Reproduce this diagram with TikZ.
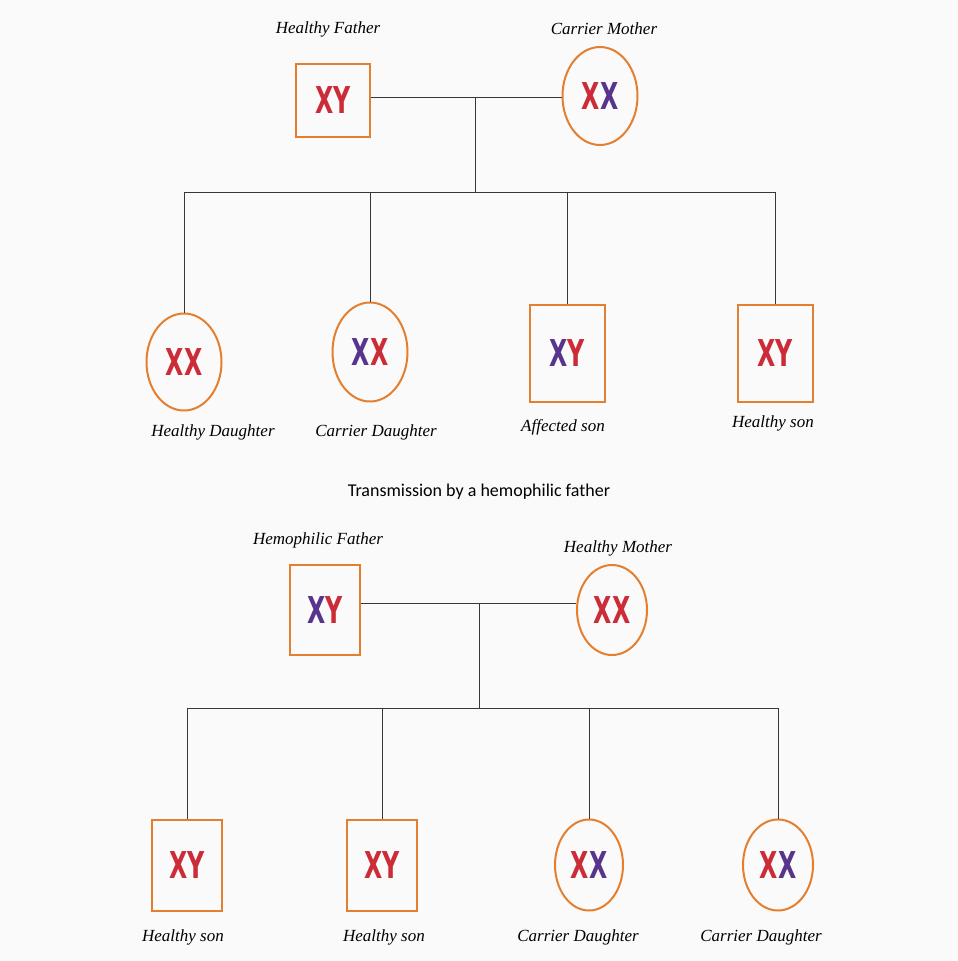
\documentclass[tikz,border=0pt]{standalone}
\usepackage{fontspec}
\usetikzlibrary{shapes.geometric}
\newfontfamily\handfont{Liberation Serif}
\newfontfamily\chromfont{DejaVu Sans}[UprightFont={* Bold}]
\newfontfamily\titlefont{Carlito}
\definecolor{pedorange}{RGB}{229,127,48}
\definecolor{xred}{RGB}{204,44,56}
\definecolor{xpurple}{RGB}{88,52,140}
\definecolor{linegray}{RGB}{55,55,55}
\definecolor{bgwhite}{RGB}{250,250,250}
\newcommand{\Xr}{\textcolor{xred}{X}}
\newcommand{\Xp}{\textcolor{xpurple}{X}}
\newcommand{\Yr}{\textcolor{xred}{Y}}
\newcommand{\chr}[1]{\scalebox{0.64}[1]{#1}}
\begin{document}
\begin{tikzpicture}[x=1pt,y=-1pt,
        male/.style={rectangle,draw=pedorange,line width=2pt,inner sep=0pt,font=\chromfont\fontsize{37}{37}\selectfont},
        female/.style={ellipse,draw=pedorange,line width=2pt,inner sep=0pt,font=\chromfont\fontsize{37}{37}\selectfont},
        lsty/.style={font=\handfont\itshape\fontsize{17}{20}\selectfont},
        link/.style={draw=linegray,line width=1pt},
        ]

    \fill[bgwhite] (0,0) rectangle (958,961);
    \useasboundingbox (0,0) rectangle (958,961);

    % carrier mother
    \node (hf) at (333,100) [male,minimum width=74pt,minimum height=73pt] {\chr{\Xr\Yr}};
    \node (cm) at (600,96) [female,minimum width=75pt,minimum height=98pt] {\chr{\Xr\Xp}};
    \node (hfl) at (328,29) [lsty] {Healthy Father};
    \node (cml) at (604,29) [lsty] {Carrier Mother};

    \node (hd) at (184,362) [female,minimum width=75pt,minimum height=97pt] {\chr{\Xr\Xr}};
    \node (cd) at (370,352) [female,minimum width=75pt,minimum height=99pt] {\chr{\Xp\Xr}};
    \node (as) at (567,353) [male,minimum width=75pt,minimum height=97pt] {\chr{\Xp\Yr}};
    \node (hs) at (775,353) [male,minimum width=75pt,minimum height=97pt] {\chr{\Xr\Yr}};
    \node (hdl) at (213,432) [lsty] {Healthy Daughter};
    \node (cdl) at (376,432) [lsty] {Carrier Daughter};
    \node (asl) at (563,427) [lsty] {Affected son};
    \node (hsl) at (773,423) [lsty] {Healthy son};

    \coordinate (m1) at (475,97);
    \coordinate (s1) at (475,192);
    \draw[link] (m1 -| hf.east) -- (m1 -| cm.west);
    \draw[link] (m1) -- (s1);
    \draw[link] (hd.north |- s1) -- (hs.north |- s1);
    \foreach \c in {hd,cd,as,hs}
        \draw[link] (\c.north) -- (\c.north |- s1);

    \node (title) at (479,492) [font=\titlefont\fontsize{18}{21}\selectfont] {Transmission by a hemophilic father};

    % hemophilic father
    \node (hp) at (325,610) [male,minimum width=70pt,minimum height=90pt] {\chr{\Xp\Yr}};
    \node (hm) at (612,610) [female,minimum width=70pt,minimum height=90pt] {\chr{\Xr\Xr}};
    \node (hpl) at (318,540) [lsty] {Hemophilic Father};
    \node (hml) at (618,548) [lsty] {Healthy Mother};

    \node (sa) at (187,865) [male,minimum width=70pt,minimum height=91pt] {\chr{\Xr\Yr}};
    \node (sb) at (382,865) [male,minimum width=70pt,minimum height=91pt] {\chr{\Xr\Yr}};
    \node (da) at (589,865) [female,minimum width=68pt,minimum height=91pt] {\chr{\Xr\Xp}};
    \node (db) at (778,865) [female,minimum width=70pt,minimum height=91pt] {\chr{\Xr\Xp}};
    \node (sal) at (183,937) [lsty] {Healthy son};
    \node (sbl) at (384,937) [lsty] {Healthy son};
    \node (dal) at (578,937) [lsty] {Carrier Daughter};
    \node (dbl) at (761,937) [lsty] {Carrier Daughter};

    \coordinate (m2) at (479,603);
    \coordinate (s2) at (479,708);
    \draw[link] (m2 -| hp.east) -- (m2 -| hm.west);
    \draw[link] (m2) -- (s2);
    \draw[link] (sa.north |- s2) -- (db.north |- s2);
    \foreach \c in {sa,sb,da,db}
        \draw[link] (\c.north) -- (\c.north |- s2);

\end{tikzpicture}
\end{document}
